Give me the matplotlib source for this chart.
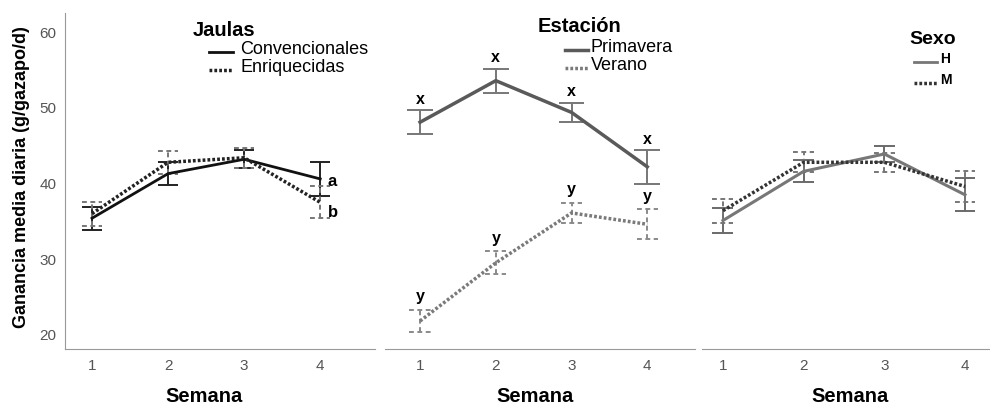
import matplotlib.pyplot as plt
import numpy as np

plt.rcParams['font.family'] = ['Liberation Sans', 'DejaVu Sans']

# Data (mean +/- error per week)
semana = [1, 2, 3, 4]

conv = [35.4, 41.3, 43.2, 40.6]
conv_err = [1.5, 1.5, 1.2, 2.2]
enr = [36.0, 42.8, 43.4, 37.5]
enr_err = [1.6, 1.5, 1.3, 2.1]

prim = [48.1, 53.6, 49.4, 42.2]
prim_err = [1.6, 1.6, 1.3, 2.25]
ver = [21.8, 29.5, 36.1, 34.6]
ver_err = [1.5, 1.5, 1.35, 2.0]

sexo_h = [35.1, 41.6, 43.9, 38.5]
sexo_h_err = [1.6, 1.45, 1.1, 2.2]
sexo_m = [36.4, 42.8, 42.8, 39.6]
sexo_m_err = [1.6, 1.3, 1.25, 2.1]

prim_letters = ['x', 'x', 'x', 'x']
ver_letters = ['y', 'y', 'y', 'y']
yticks = [20, 30, 40, 50, 60]

W, H = 990, 407
fig = plt.figure(figsize=(W / 100, H / 100), dpi=100)


def px_axes(left, right, top=13, bottom=349):
    return fig.add_axes([left / W, 1 - bottom / H, (right - left) / W, (bottom - top) / H])


DOT = (0, (0.8, 0.6))
DASH = (0, (2.5, 1.8))


def series(ax, y, err, color, lw, ls, ecolor, els, elw=1.4, cap=0.13):
    x = np.array(semana)
    y = np.array(y)
    e = np.array(err)
    ax.plot(x, y, color=color, lw=lw, linestyle=ls, zorder=3)
    ax.vlines(x, y - e, y + e, colors=ecolor, lw=elw, linestyles=els, zorder=2)
    ax.hlines(y + e, x - cap, x + cap, colors=ecolor, lw=elw, linestyles=els, zorder=2)
    ax.hlines(y - e, x - cap, x + cap, colors=ecolor, lw=elw, linestyles=els, zorder=2)


def style(ax, xlim, left_spine):
    ax.set_xlim(*xlim)
    ax.set_ylim(18.1, 62.55)
    ax.set_xticks(semana)
    ax.set_yticks(yticks)
    for s in ['top', 'right']:
        ax.spines[s].set_visible(False)
    ax.spines['bottom'].set_color('#999999')
    ax.spines['left'].set_color('#999999')
    ax.spines['left'].set_visible(left_spine)
    ax.tick_params(length=0, labelsize=11, labelcolor='#555555', pad=7)
    if not left_spine:
        ax.tick_params(axis='y', labelleft=False)


# Panel 1: Jaulas
ax1 = px_axes(65, 375)
series(ax1, conv, conv_err, '#111111', 2.0, '-', '#222222', '-')
series(ax1, enr, enr_err, '#222222', 2.5, DOT, '#777777', DASH)
style(ax1, (0.645, 4.72), True)
ax1.tick_params(axis='y', pad=6)
ax1.text(4.1, conv[3] - 0.3, 'a', fontsize=12, fontweight='bold', va='center', ha='left')
ax1.text(4.1, enr[3] - 1.4, 'b', fontsize=12, fontweight='bold', va='center', ha='left')

# Panel 2: Estacion
ax2 = px_axes(385, 695)
series(ax2, prim, prim_err, '#5a5a5a', 2.5, '-', '#777777', '-', cap=0.17)
series(ax2, ver, ver_err, '#7a7a7a', 2.5, DOT, '#8a8a8a', DASH, cap=0.14)
style(ax2, (0.537, 4.63), False)
for xi, yi, ei, lt in zip(semana, prim, prim_err, prim_letters):
    ax2.text(xi, yi + ei + 1.4, lt, fontsize=11.5, fontweight='bold', ha='center', va='center')
for xi, yi, ei, lt in zip(semana, ver, ver_err, ver_letters):
    ax2.text(xi, yi + ei + 1.7, lt, fontsize=11.5, fontweight='bold', ha='center', va='center')

# Panel 3: Sexo
ax3 = px_axes(702, 990)
series(ax3, sexo_h, sexo_h_err, '#777777', 2.2, '-', '#6a6a6a', '-', cap=0.13)
series(ax3, sexo_m, sexo_m_err, '#333333', 2.5, DOT, '#777777', DASH, cap=0.13)
style(ax3, (0.74, 4.31), False)


# Legends drawn in figure pixel coordinates
def fx(x):
    return x / W


def fy(y):
    return 1 - y / H


def legend_entry(x0, x1, y, ls, color, lw, label, tx, fs, weight='normal'):
    fig.add_artist(plt.Line2D([fx(x0), fx(x1)], [fy(y), fy(y)], color=color, lw=lw, linestyle=ls))
    fig.text(fx(tx), fy(y - 3), label, fontsize=fs, fontweight=weight, va='center', ha='left')


fig.text(fx(193), fy(30), 'Jaulas', fontsize=14.5, fontweight='bold', va='center', ha='left')
legend_entry(209, 233, 52, '-', '#111111', 2.0, 'Convencionales', 240, 13)
legend_entry(209, 233, 70, DOT, '#222222', 2.5, 'Enriquecidas', 240, 13)

fig.text(fx(538), fy(26), 'Estación', fontsize=14.5, fontweight='bold', va='center', ha='left')
legend_entry(565, 588, 50, '-', '#5a5a5a', 2.5, 'Primavera', 591, 13)
legend_entry(565, 588, 68, DOT, '#7a7a7a', 2.5, 'Verano', 591, 13)

fig.text(fx(909), fy(39), 'Sexo', fontsize=14, fontweight='bold', va='center', ha='left')
legend_entry(914, 937, 62, '-', '#777777', 2.0, 'H', 940, 10, 'bold')
legend_entry(914, 937, 83, DOT, '#333333', 2.5, 'M', 940, 10, 'bold')

# Axis titles
fig.text(fx(22), fy(177), 'Ganancia media diaria (g/gazapo/d)', rotation=90,
         fontsize=13, fontweight='bold', ha='center', va='center')
for cx, cy in [(204, 397), (535, 397), (850, 396)]:
    fig.text(fx(cx), fy(cy), 'Semana', fontsize=14.5, fontweight='bold', ha='center', va='center')

fig.savefig('out.png', dpi=100)
